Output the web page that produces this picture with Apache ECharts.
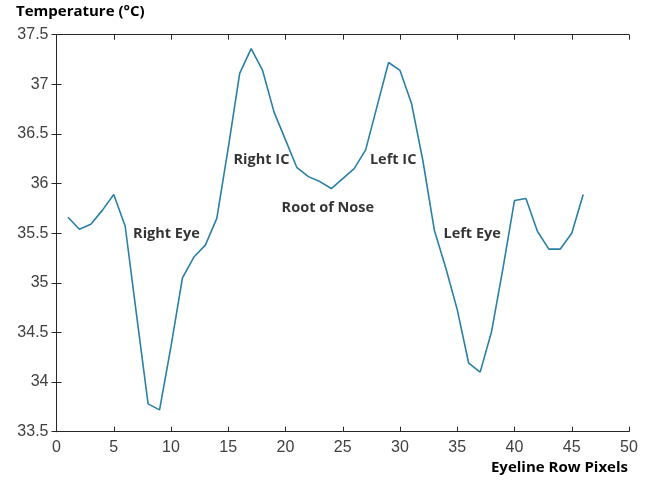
<!DOCTYPE html>
<html>
<head>
<meta charset="utf-8">
<script src="https://cdn.jsdelivr.net/npm/echarts@6/dist/echarts.min.js"></script>
<style>
  html, body { margin: 0; padding: 0; background: #fff; }
  #chart { width: 650px; height: 483px; }
</style>
</head>
<body>
<div id="chart"></div>
<script>
// pixel index along the eyeline row
var pixels = [1, 2, 3, 4, 5, 6, 7, 8, 9, 10, 11, 12, 13, 14, 15, 16, 17, 18, 19, 20, 21, 22, 23,
    24, 25, 26, 27, 28, 29, 30, 31, 32, 33, 34, 35, 36, 37, 38, 39, 40, 41, 42, 43, 44, 45, 46];
// temperature (°C)
var temps = [35.66, 35.54, 35.59, 35.73, 35.89, 35.57, 34.67, 33.78, 33.72, 34.36, 35.05, 35.26,
    35.38, 35.65, 36.36, 37.11, 37.36, 37.14, 36.72, 36.44, 36.16, 36.07, 36.02, 35.95, 36.05,
    36.15, 36.34, 36.78, 37.22, 37.14, 36.81, 36.23, 35.53, 35.15, 34.73, 34.19, 34.10, 34.51,
    35.15, 35.83, 35.85, 35.52, 35.34, 35.34, 35.50, 35.89];

// region labels written into the plot
var regionNames = ['Right Eye', 'Right IC', 'Root of Nose', 'Left IC', 'Left Eye'];
var regionX = [9.6, 17.9, 23.7, 29.4, 36.3];
var regionY = [35.49, 36.24, 35.76, 36.24, 35.49];

var xTitle = 'Eyeline Row Pixels';
var yTitle = 'Temperature (°C)';

var myChart = echarts.init(document.getElementById('chart'));

var lineData = pixels.map(function (p, i) { return [p, temps[i]]; });
var labelData = regionNames.map(function (n, i) {
    return { name: n, value: [regionX[i], regionY[i]] };
});

var axisCol = '#262626';
var boxAxis = {
    axisLine: { show: true, lineStyle: { color: axisCol, width: 1 } },
    axisTick: { show: true, inside: true, length: 5, lineStyle: { color: axisCol } },
    splitLine: { show: false }
};

var option = {
    animation: false,
    backgroundColor: '#fff',
    grid: { left: 56.5, right: 21, top: 34.7, bottom: 51.3, containLabel: false },
    xAxis: [
        Object.assign({
            type: 'value', min: 0, max: 50, interval: 5, position: 'bottom',
            axisLabel: { color: '#404040', fontFamily: 'Liberation Sans', fontSize: 16, margin: 8 }
        }, boxAxis),
        Object.assign({
            type: 'value', min: 0, max: 50, interval: 5, position: 'top',
            axisLabel: { show: false }
        }, boxAxis)
    ],
    yAxis: [
        Object.assign({
            type: 'value', min: 33.5, max: 37.5, interval: 0.5, position: 'left',
            axisLabel: { color: '#404040', fontFamily: 'Liberation Sans', fontSize: 16, margin: 8 }
        }, boxAxis),
        Object.assign({
            type: 'value', min: 33.5, max: 37.5, interval: 0.5, position: 'right',
            axisLabel: { show: false }
        }, boxAxis)
    ],
    graphic: [
        {
            type: 'text', left: 16, top: 4,
            style: { text: yTitle, fill: '#000', font: 'bold 15px "Open Sans"' }
        },
        {
            type: 'text', right: 22, top: 460,
            style: { text: xTitle, fill: '#000', font: 'bold 15px "Open Sans"' }
        }
    ],
    series: [
        {
            type: 'line',
            data: lineData,
            showSymbol: false,
            lineStyle: { color: '#2a7fa6', width: 1.6 },
            itemStyle: { color: '#2a7fa6' }
        },
        {
            type: 'scatter',
            data: labelData,
            symbolSize: 0,
            silent: true,
            label: {
                show: true,
                position: 'inside',
                formatter: '{b}',
                color: '#000',
                fontFamily: 'Open Sans',
                fontWeight: 'bold',
                fontSize: 14.5
            }
        }
    ]
};

myChart.setOption(option);
</script>
</body>
</html>
